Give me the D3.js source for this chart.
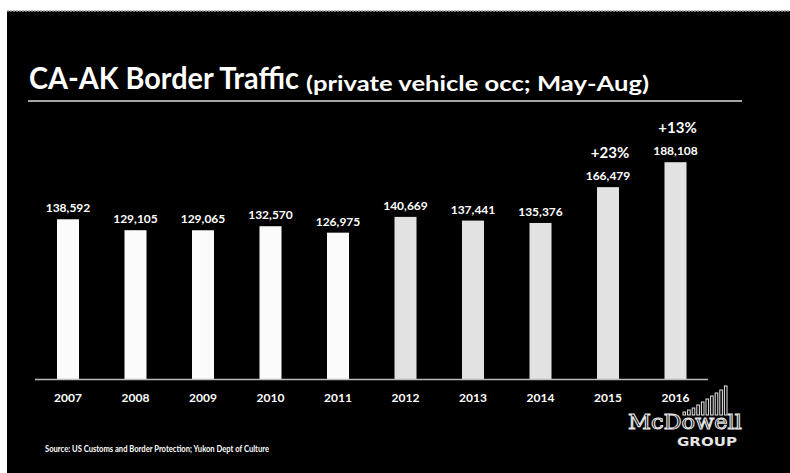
<!DOCTYPE html>
<html>
<head>
<meta charset="utf-8">
<script src="https://cdn.jsdelivr.net/npm/d3@7"></script>
<style>
  html, body { margin: 0; padding: 0; background: #fff; }
  svg { display: block; }
</style>
</head>
<body>
<svg id="chart" width="790" height="473"></svg>
<script>
const years = ["2007","2008","2009","2010","2011","2012","2013","2014","2015","2016"];
const values = [138592, 129105, 129065, 132570, 126975, 140669, 137441, 135376, 166479, 188108];
const growthYears = ["2015", "2016"];
const growthLabels = ["+23%", "+13%"];
const titleMain = "CA-AK Border Traffic";
const titleSub = "(private vehicle occ; May-Aug)";
const sourceText = "Source: US Customs and Border Protection; Yukon Dept of Culture";

const svg = d3.select("#chart");
const W = 790, H = 473;
const font = "Lato, 'Open Sans', 'Liberation Sans', sans-serif";

// slide background
svg.append("rect").attr("x", 0).attr("y", 0).attr("width", W).attr("height", H).attr("fill", "#fff");
svg.append("rect").attr("x", 7).attr("y", 11).attr("width", W - 7).attr("height", H - 11).attr("fill", "#000");
svg.append("line").attr("x1", 7).attr("x2", W).attr("y1", 11).attr("y2", 11)
  .attr("stroke", "#999").attr("stroke-width", 1.5).attr("stroke-dasharray", "2,1");

// title
svg.append("text").attr("x", 29).attr("y", 89)
  .attr("fill", "#fff").attr("font-family", font).attr("font-weight", 700)
  .attr("font-size", 31).attr("textLength", 270).attr("lengthAdjust", "spacingAndGlyphs")
  .text(titleMain);
svg.append("text").attr("x", 306).attr("y", 91)
  .attr("fill", "#fff").attr("font-family", font).attr("font-weight", 700)
  .attr("font-size", 20).attr("textLength", 343).attr("lengthAdjust", "spacingAndGlyphs")
  .text(titleSub);
svg.append("line").attr("x1", 28).attr("x2", 742).attr("y1", 101).attr("y2", 101)
  .attr("stroke", "#ddd").attr("stroke-width", 1.5);

// scales
const x = d3.scaleBand().domain(years).range([34.25, 709.25]).paddingInner(0.674).paddingOuter(0.337);
const y = d3.scaleLinear().domain([0, 200000]).range([379, 148.5]);

const data = years.map((yr, i) => ({ year: yr, value: values[i] }));

// bars
svg.append("g").selectAll("rect").data(data).join("rect")
  .attr("x", d => x(d.year))
  .attr("y", d => y(d.value))
  .attr("width", x.bandwidth())
  .attr("height", d => y(0) - y(d.value))
  .attr("fill", d => (+d.year >= 2012 ? "#e2e2e2" : "#fbfbfb"));

// value labels
const fmt = d3.format(",");
svg.append("g").selectAll("text").data(data).join("text")
  .attr("x", d => x(d.year) + x.bandwidth() / 2)
  .attr("y", d => y(d.value) - 7)
  .attr("text-anchor", "middle")
  .attr("fill", "#fff").attr("font-family", font).attr("font-weight", 700).attr("font-size", 12)
  .text(d => fmt(d.value));

// growth labels
svg.append("g").selectAll("text").data(growthYears).join("text")
  .attr("x", (d) => x(d) + x.bandwidth() / 2 + 2)
  .attr("y", (d, i) => y(values[years.indexOf(d)]) - 29)
  .attr("text-anchor", "middle")
  .attr("fill", "#fff").attr("font-family", font).attr("font-weight", 700).attr("font-size", 15)
  .text((d, i) => growthLabels[i]);

// x axis
const axis = svg.append("g").attr("transform", `translate(0,${y(0)})`)
  .call(d3.axisBottom(x).tickSize(0).tickPadding(14));
axis.select(".domain").remove();
axis.append("line").attr("x1", 35).attr("x2", 708).attr("y1", 0.5).attr("y2", 0.5)
  .attr("stroke", "#bbb").attr("stroke-width", 1.5);
axis.selectAll(".tick text").attr("fill", "#fff").attr("font-family", font)
  .attr("font-weight", 700).attr("font-size", 12);

// source
svg.append("text").attr("x", 45).attr("y", 452)
  .attr("fill", "#fff").attr("font-family", font).attr("font-weight", 700).attr("font-size", 10)
  .attr("textLength", 224).attr("lengthAdjust", "spacingAndGlyphs")
  .text(sourceText);

// logo
const logo = svg.append("g");
const logoBarH = [3, 5, 7, 10, 13, 16, 19, 22, 25, 29];
logoBarH.forEach((h, i) => {
  logo.append("rect").attr("x", 683 + i * 4.6).attr("y", 415 - h).attr("width", 2.6).attr("height", h)
    .attr("fill", "none").attr("stroke", "#e6e6e6").attr("stroke-width", 1);
});
logo.append("text").attr("x", 628).attr("y", 429)
  .attr("fill", "#000").attr("stroke", "#e6e6e6").attr("stroke-width", 1)
  .attr("font-family", "'DejaVu Serif', serif").attr("font-size", 20)
  .attr("textLength", 114).attr("lengthAdjust", "spacingAndGlyphs")
  .text("McDowell");
logo.append("text").attr("x", 677).attr("y", 446)
  .attr("fill", "#e6e6e6").attr("font-family", "'DejaVu Sans', sans-serif").attr("font-weight", 700)
  .attr("font-size", 12).attr("textLength", 60).attr("lengthAdjust", "spacingAndGlyphs")
  .text("GROUP");
</script>
</body>
</html>
